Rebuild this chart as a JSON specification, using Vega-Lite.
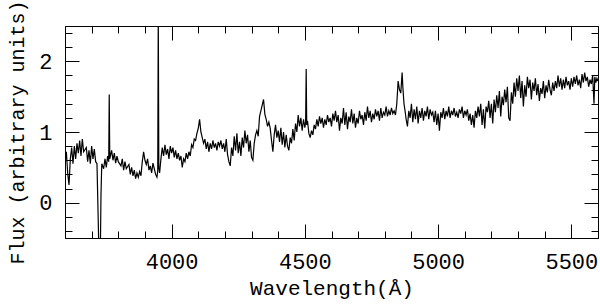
{
 "$schema": "https://vega.github.io/schema/vega-lite/v6.json",
 "width": 533, "height": 212,
 "autosize": {"type": "none"},
 "padding": {"left": 65, "top": 26, "right": 2, "bottom": 68},
 "background": "white",
 "config": {
  "view": {"stroke": null},
  "axis": {"domainColor": "black", "tickColor": "black", "labelColor": "black", "titleColor": "black",
   "labelFont": "Liberation Mono", "titleFont": "Liberation Mono", "labelFontSize": 22,
   "titleFontWeight": "normal", "grid": false, "tickWidth": 1, "domainWidth": 1}
 },
 "data": {"values": [
{"w":3600,"f":0.55},{"w":3605,"f":0.72},{"w":3610,"f":0.42},{"w":3615,"f":0.25},{"w":3620,"f":0.62},{"w":3625,"f":0.78},{"w":3630,"f":0.55},{"w":3635,"f":0.80},{"w":3640,"f":0.62},{"w":3645,"f":0.84},{"w":3650,"f":0.70},{"w":3655,"f":0.88},{"w":3660,"f":0.66},{"w":3665,"f":0.90},{"w":3670,"f":0.72},{"w":3680,"f":0.78},{"w":3685,"f":0.58},{"w":3690,"f":0.74},{"w":3695,"f":0.55},{"w":3700,"f":0.80},{"w":3705,"f":0.62},{"w":3710,"f":0.76},{"w":3715,"f":0.58},{"w":3720,"f":0.55},{"w":3725,"f":-0.3},{"w":3728,"f":-0.9},{"w":3732,"f":-0.9},{"w":3735,"f":0.1},{"w":3738,"f":0.55},{"w":3745,"f":0.48},{"w":3750,"f":0.62},{"w":3755,"f":0.50},{"w":3760,"f":0.66},{"w":3764,"f":0.58},{"w":3766,"f":1.53},{"w":3768,"f":0.62},{"w":3775,"f":0.74},{"w":3780,"f":0.60},{"w":3785,"f":0.70},{"w":3790,"f":0.56},{"w":3795,"f":0.66},{"w":3800,"f":0.58},{"w":3810,"f":0.52},{"w":3815,"f":0.62},{"w":3820,"f":0.46},{"w":3825,"f":0.58},{"w":3830,"f":0.48},{"w":3840,"f":0.54},{"w":3845,"f":0.40},{"w":3850,"f":0.50},{"w":3855,"f":0.38},{"w":3860,"f":0.46},{"w":3865,"f":0.34},{"w":3870,"f":0.42},{"w":3875,"f":0.36},{"w":3880,"f":0.44},{"w":3885,"f":0.38},{"w":3890,"f":0.58},{"w":3895,"f":0.72},{"w":3900,"f":0.60},{"w":3905,"f":0.54},{"w":3910,"f":0.62},{"w":3915,"f":0.46},{"w":3920,"f":0.52},{"w":3925,"f":0.42},{"w":3930,"f":0.56},{"w":3935,"f":0.48},{"w":3940,"f":0.40},{"w":3945,"f":0.36},{"w":3948,"f":0.45},{"w":3950,"f":2.7},{"w":3952,"f":0.5},{"w":3955,"f":0.42},{"w":3960,"f":0.62},{"w":3965,"f":0.78},{"w":3970,"f":0.66},{"w":3975,"f":0.82},{"w":3980,"f":0.68},{"w":3985,"f":0.76},{"w":3990,"f":0.62},{"w":3995,"f":0.80},
{"w":4000,"f":0.70},{"w":4005,"f":0.78},{"w":4010,"f":0.64},{"w":4015,"f":0.74},{"w":4020,"f":0.62},{"w":4025,"f":0.70},{"w":4030,"f":0.60},{"w":4035,"f":0.66},{"w":4040,"f":0.50},{"w":4045,"f":0.62},{"w":4050,"f":0.58},{"w":4055,"f":0.70},{"w":4060,"f":0.62},{"w":4065,"f":0.72},{"w":4070,"f":0.66},{"w":4075,"f":0.82},{"w":4080,"f":0.78},{"w":4085,"f":0.90},{"w":4090,"f":0.88},{"w":4095,"f":0.98},{"w":4100,"f":1.05},{"w":4105,"f":1.18},{"w":4110,"f":1.00},{"w":4115,"f":0.92},{"w":4120,"f":0.84},{"w":4125,"f":0.90},{"w":4130,"f":0.76},{"w":4135,"f":0.86},{"w":4140,"f":0.72},{"w":4145,"f":0.84},{"w":4150,"f":0.76},{"w":4155,"f":0.88},{"w":4160,"f":0.78},{"w":4165,"f":0.84},{"w":4170,"f":0.74},{"w":4175,"f":0.86},{"w":4180,"f":0.80},{"w":4185,"f":0.88},{"w":4190,"f":0.76},{"w":4195,"f":0.84},{"w":4200,"f":0.72},{"w":4205,"f":0.90},{"w":4210,"f":0.68},{"w":4215,"f":0.58},{"w":4220,"f":0.52},{"w":4225,"f":0.78},{"w":4230,"f":0.66},{"w":4235,"f":0.94},{"w":4240,"f":0.74},{"w":4245,"f":0.98},{"w":4250,"f":0.70},{"w":4255,"f":0.86},{"w":4260,"f":0.66},{"w":4265,"f":0.92},{"w":4270,"f":0.78},{"w":4275,"f":1.02},{"w":4280,"f":0.84},{"w":4285,"f":0.96},{"w":4290,"f":0.72},{"w":4295,"f":0.88},{"w":4300,"f":0.64},{"w":4305,"f":0.60},{"w":4310,"f":0.84},{"w":4315,"f":0.96},{"w":4320,"f":1.02},{"w":4325,"f":0.94},{"w":4330,"f":1.22},{"w":4335,"f":1.30},{"w":4340,"f":1.38},{"w":4345,"f":1.46},{"w":4350,"f":1.25},{"w":4355,"f":1.18},{"w":4360,"f":1.08},{"w":4365,"f":1.14},{"w":4370,"f":1.05},{"w":4375,"f":0.88},{"w":4380,"f":0.72},{"w":4385,"f":0.96},{"w":4390,"f":1.10},{"w":4395,"f":0.92},
{"w":4400,"f":1.02},{"w":4405,"f":0.86},{"w":4410,"f":1.06},{"w":4415,"f":0.82},{"w":4420,"f":1.00},{"w":4425,"f":0.78},{"w":4430,"f":0.96},{"w":4435,"f":0.80},{"w":4440,"f":0.74},{"w":4445,"f":0.92},{"w":4450,"f":0.84},{"w":4455,"f":1.04},{"w":4460,"f":0.88},{"w":4465,"f":1.12},{"w":4470,"f":1.00},{"w":4475,"f":1.24},{"w":4480,"f":1.08},{"w":4485,"f":1.20},{"w":4490,"f":1.02},{"w":4495,"f":1.18},{"w":4500,"f":1.06},{"w":4503,"f":1.14},{"w":4505,"f":1.89},{"w":4507,"f":1.10},{"w":4510,"f":1.16},{"w":4515,"f":0.98},{"w":4520,"f":0.92},{"w":4525,"f":1.02},{"w":4530,"f":0.96},{"w":4535,"f":1.10},{"w":4540,"f":1.04},{"w":4545,"f":1.18},{"w":4550,"f":1.08},{"w":4555,"f":1.22},{"w":4560,"f":1.12},{"w":4565,"f":1.20},{"w":4570,"f":1.06},{"w":4575,"f":1.18},{"w":4580,"f":1.10},{"w":4585,"f":1.24},{"w":4590,"f":1.14},{"w":4595,"f":1.20},{"w":4600,"f":1.08},{"w":4605,"f":1.26},{"w":4610,"f":1.16},{"w":4615,"f":1.30},{"w":4620,"f":1.14},{"w":4625,"f":1.24},{"w":4630,"f":1.02},{"w":4635,"f":1.20},{"w":4640,"f":1.12},{"w":4645,"f":1.34},{"w":4650,"f":1.10},{"w":4655,"f":1.28},{"w":4660,"f":1.04},{"w":4665,"f":1.22},{"w":4670,"f":1.14},{"w":4675,"f":1.32},{"w":4680,"f":1.12},{"w":4685,"f":1.26},{"w":4690,"f":1.06},{"w":4695,"f":1.20},{"w":4700,"f":1.12},{"w":4705,"f":1.30},{"w":4710,"f":1.18},{"w":4715,"f":1.24},{"w":4720,"f":1.10},{"w":4725,"f":1.28},{"w":4730,"f":1.16},{"w":4735,"f":1.36},{"w":4740,"f":1.20},{"w":4745,"f":1.30},{"w":4750,"f":1.14},{"w":4755,"f":1.26},{"w":4760,"f":1.18},{"w":4765,"f":1.32},{"w":4770,"f":1.22},{"w":4775,"f":1.30},{"w":4780,"f":1.16},{"w":4785,"f":1.34},{"w":4790,"f":1.20},{"w":4795,"f":1.28},
{"w":4800,"f":1.24},{"w":4805,"f":1.36},{"w":4810,"f":1.22},{"w":4815,"f":1.30},{"w":4820,"f":1.24},{"w":4825,"f":1.34},{"w":4830,"f":1.26},{"w":4835,"f":1.30},{"w":4840,"f":1.24},{"w":4845,"f":1.40},{"w":4850,"f":1.72},{"w":4855,"f":1.60},{"w":4860,"f":1.55},{"w":4865,"f":1.84},{"w":4868,"f":1.62},{"w":4872,"f":1.40},{"w":4876,"f":1.30},{"w":4880,"f":1.18},{"w":4885,"f":1.08},{"w":4890,"f":1.30},{"w":4895,"f":1.20},{"w":4900,"f":1.40},{"w":4905,"f":1.14},{"w":4910,"f":1.32},{"w":4915,"f":1.18},{"w":4920,"f":1.36},{"w":4925,"f":1.12},{"w":4930,"f":1.30},{"w":4935,"f":1.20},{"w":4940,"f":1.34},{"w":4945,"f":1.16},{"w":4950,"f":1.30},{"w":4955,"f":1.22},{"w":4960,"f":1.36},{"w":4965,"f":1.18},{"w":4970,"f":1.32},{"w":4975,"f":1.24},{"w":4980,"f":1.28},{"w":4985,"f":1.14},{"w":4990,"f":1.30},{"w":4995,"f":1.10},{"w":5000,"f":1.26},{"w":5005,"f":1.02},{"w":5010,"f":1.28},{"w":5015,"f":1.20},{"w":5020,"f":1.34},{"w":5025,"f":1.18},{"w":5030,"f":1.30},{"w":5035,"f":1.22},{"w":5040,"f":1.36},{"w":5045,"f":1.20},{"w":5050,"f":1.30},{"w":5055,"f":1.24},{"w":5060,"f":1.34},{"w":5065,"f":1.22},{"w":5070,"f":1.28},{"w":5075,"f":1.20},{"w":5080,"f":1.32},{"w":5085,"f":1.26},{"w":5090,"f":1.36},{"w":5095,"f":1.20},{"w":5100,"f":1.30},{"w":5105,"f":1.24},{"w":5110,"f":1.32},{"w":5115,"f":1.16},{"w":5120,"f":1.26},{"w":5125,"f":1.10},{"w":5130,"f":1.24},{"w":5135,"f":1.06},{"w":5140,"f":1.30},{"w":5145,"f":1.20},{"w":5150,"f":1.36},{"w":5155,"f":1.22},{"w":5160,"f":1.40},{"w":5165,"f":1.10},{"w":5170,"f":1.32},{"w":5175,"f":1.05},{"w":5180,"f":1.36},{"w":5185,"f":1.28},{"w":5190,"f":1.44},{"w":5195,"f":1.20},
{"w":5200,"f":1.40},{"w":5205,"f":1.12},{"w":5210,"f":1.46},{"w":5215,"f":1.28},{"w":5220,"f":1.52},{"w":5225,"f":1.34},{"w":5230,"f":1.58},{"w":5235,"f":1.22},{"w":5240,"f":1.50},{"w":5245,"f":1.38},{"w":5250,"f":1.60},{"w":5255,"f":1.42},{"w":5260,"f":1.64},{"w":5265,"f":1.20},{"w":5270,"f":1.16},{"w":5275,"f":1.56},{"w":5280,"f":1.40},{"w":5285,"f":1.70},{"w":5290,"f":1.50},{"w":5295,"f":1.76},{"w":5300,"f":1.58},{"w":5305,"f":1.80},{"w":5310,"f":1.48},{"w":5315,"f":1.72},{"w":5320,"f":1.36},{"w":5325,"f":1.66},{"w":5330,"f":1.50},{"w":5335,"f":1.78},{"w":5340,"f":1.62},{"w":5345,"f":1.74},{"w":5350,"f":1.46},{"w":5355,"f":1.70},{"w":5360,"f":1.58},{"w":5365,"f":1.76},{"w":5370,"f":1.52},{"w":5375,"f":1.68},{"w":5380,"f":1.44},{"w":5385,"f":1.62},{"w":5390,"f":1.54},{"w":5395,"f":1.72},{"w":5400,"f":1.48},{"w":5405,"f":1.66},{"w":5410,"f":1.56},{"w":5415,"f":1.74},{"w":5420,"f":1.60},{"w":5425,"f":1.52},{"w":5430,"f":1.70},{"w":5435,"f":1.58},{"w":5440,"f":1.72},{"w":5445,"f":1.62},{"w":5450,"f":1.80},{"w":5455,"f":1.64},{"w":5460,"f":1.76},{"w":5465,"f":1.60},{"w":5470,"f":1.74},{"w":5475,"f":1.62},{"w":5480,"f":1.78},{"w":5485,"f":1.66},{"w":5490,"f":1.72},{"w":5495,"f":1.60},{"w":5500,"f":1.76},{"w":5505,"f":1.64},{"w":5510,"f":1.78},{"w":5515,"f":1.68},{"w":5520,"f":1.80},{"w":5525,"f":1.66},{"w":5530,"f":1.74},{"w":5535,"f":1.62},{"w":5540,"f":1.82},{"w":5545,"f":1.70},{"w":5550,"f":1.84},{"w":5555,"f":1.72},{"w":5560,"f":1.78},{"w":5565,"f":1.64},{"w":5570,"f":1.74},{"w":5575,"f":1.68},{"w":5580,"f":1.80},{"w":5585,"f":1.40},{"w":5588,"f":1.78},{"w":5592,"f":1.70},{"w":5596,"f":1.76},{"w":5600,"f":1.72}
 ]},
 "layer": [
  {
   "mark": {"type": "line", "color": "black", "strokeWidth": 1.2, "clip": true},
   "encoding": {
    "x": {"field": "w", "type": "quantitative",
     "scale": {"domain": [3600, 5600], "nice": false, "zero": false},
     "axis": {"orient": "bottom", "labelOverlap": false, "labelFlush": false,
      "values": [3600,3700,3800,3900,4000,4100,4200,4300,4400,4500,4600,4700,4800,4900,5000,5100,5200,5300,5400,5500,5600],
      "tickSize": {"condition": {"test": "datum.value % 500 === 0", "value": -14}, "value": -7},
      "labelExpr": "datum.value % 500 === 0 && datum.value > 3600 && datum.value < 5600 ? format(datum.value, 'd') : ''",
      "labelPadding": 27, "title": "Wavelength(Å)", "titleFontSize": 21, "titlePadding": -2}},
    "y": {"field": "f", "type": "quantitative",
     "scale": {"domain": [-0.5, 2.5], "nice": false, "zero": false},
     "axis": {"orient": "left", "labelOverlap": false, "labelFlush": false,
      "values": [-0.4,-0.2,0,0.2,0.4,0.6,0.8,1,1.2,1.4,1.6,1.8,2,2.2,2.4],
      "tickSize": {"condition": {"test": "abs(datum.value - round(datum.value)) < 0.001", "value": -14}, "value": -7},
      "labelExpr": "abs(datum.value - round(datum.value)) < 0.001 ? format(datum.value, 'd') : ''",
      "labelPadding": 27, "title": "Flux (arbitrary units)", "titleFontSize": 20, "titlePadding": 11}}
   }
  },
  {
   "mark": {"type": "line", "strokeOpacity": 0, "clip": true},
   "encoding": {
    "x": {"field": "w", "type": "quantitative",
     "scale": {"domain": [3600, 5600], "nice": false, "zero": false},
     "axis": {"orient": "top", "labels": false, "title": null,
      "values": [3600,3700,3800,3900,4000,4100,4200,4300,4400,4500,4600,4700,4800,4900,5000,5100,5200,5300,5400,5500,5600],
      "tickSize": {"condition": {"test": "datum.value % 500 === 0", "value": -14}, "value": -7}}},
    "y": {"field": "f", "type": "quantitative",
     "scale": {"domain": [-0.5, 2.5], "nice": false, "zero": false},
     "axis": {"orient": "right", "labels": false, "title": null,
      "values": [-0.4,-0.2,0,0.2,0.4,0.6,0.8,1,1.2,1.4,1.6,1.8,2,2.2,2.4],
      "tickSize": {"condition": {"test": "abs(datum.value - round(datum.value)) < 0.001", "value": -14}, "value": -7}}}
   }
  }
 ],
 "resolve": {"axis": {"x": "independent", "y": "independent"}}
}
